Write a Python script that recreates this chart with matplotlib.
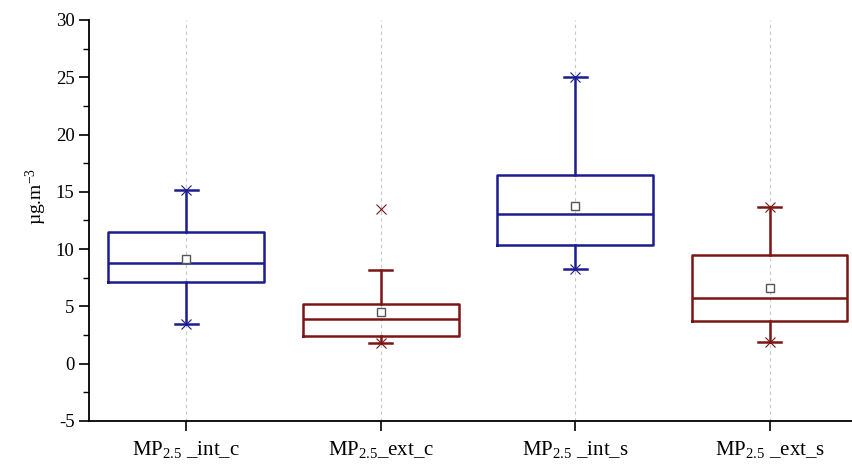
import matplotlib.pyplot as plt

plt.rcParams['font.family'] = 'Liberation Serif'
plt.rcParams['mathtext.fontset'] = 'custom'
plt.rcParams['mathtext.rm'] = 'Liberation Serif'
plt.rcParams['mathtext.it'] = 'Liberation Serif:italic'
plt.rcParams['axes.unicode_minus'] = False

# box statistics (ug/m3)
labels = ['MP$_{2.5}$ _int_c', 'MP$_{2.5}$_ext_c', 'MP$_{2.5}$ _int_s', 'MP$_{2.5}$ _ext_s']
q1 = [7.1, 2.45, 10.35, 3.75]
medians = [8.75, 3.9, 13.05, 5.75]
q3 = [11.5, 5.2, 16.45, 9.5]
whis_lo = [3.5, 1.8, 8.3, 1.9]
whis_hi = [15.2, 8.2, 25.0, 13.7]
means = [9.1, 4.5, 13.8, 6.6]
data_min = [3.5, 1.8, 8.3, 1.9]
data_max = [15.2, 13.5, 25.0, 13.7]

blue = '#1c1c8e'
red = '#7c1515'
colors = [blue, red, blue, red]

fig = plt.figure(figsize=(8.52, 4.66), dpi=100)
ax = fig.add_axes([0.1045, 0.0966, 0.913, 0.8605])

positions = [1, 2, 3, 4]
for x in positions:
    ax.axvline(x, color='#c8c8c8', lw=0.8, ls=(0, (3, 3)), zorder=0)

for i, x in enumerate(positions):
    st = dict(med=medians[i], q1=q1[i], q3=q3[i], whislo=whis_lo[i],
              whishi=whis_hi[i], mean=means[i], fliers=[])
    c = colors[i]
    ax.bxp([st], positions=[x], widths=0.8, showmeans=True, showfliers=False,
           capwidths=0.12,
           boxprops=dict(color=c, lw=1.8),
           medianprops=dict(color=c, lw=1.8),
           whiskerprops=dict(color=c, lw=1.8),
           capprops=dict(color=c, lw=1.8),
           meanprops=dict(marker='s', markerfacecolor='white',
                          markeredgecolor='#555555', markersize=6,
                          markeredgewidth=1.0))
    # min / max crosses
    ax.plot([x, x], [data_min[i], data_max[i]], ls='none', marker='x',
            color=c, markersize=7, markeredgewidth=0.8, zorder=4)

ax.set_xlim(0.5, 4.5)
ax.set_ylim(-5, 30)
ax.set_yticks(range(-5, 31, 5))
ax.set_yticks([v + 2.5 for v in range(-5, 30, 5)], minor=True)
ax.set_xticks(positions)
ax.set_xticklabels(labels, fontsize=15)
ax.tick_params(axis='y', labelsize=13.5, length=7, width=1.2, direction='out')
ax.tick_params(axis='y', which='minor', length=4, width=1.0)
ax.tick_params(axis='x', length=7, width=1.2, pad=6)

for s in ['top', 'right']:
    ax.spines[s].set_visible(False)
for s in ['left', 'bottom']:
    ax.spines[s].set_linewidth(1.3)

ax.set_ylabel('µg.m$^{-3}$', fontsize=14)
ax.yaxis.set_label_coords(-0.052, 0.56)

fig.savefig('out.png', dpi=100)
